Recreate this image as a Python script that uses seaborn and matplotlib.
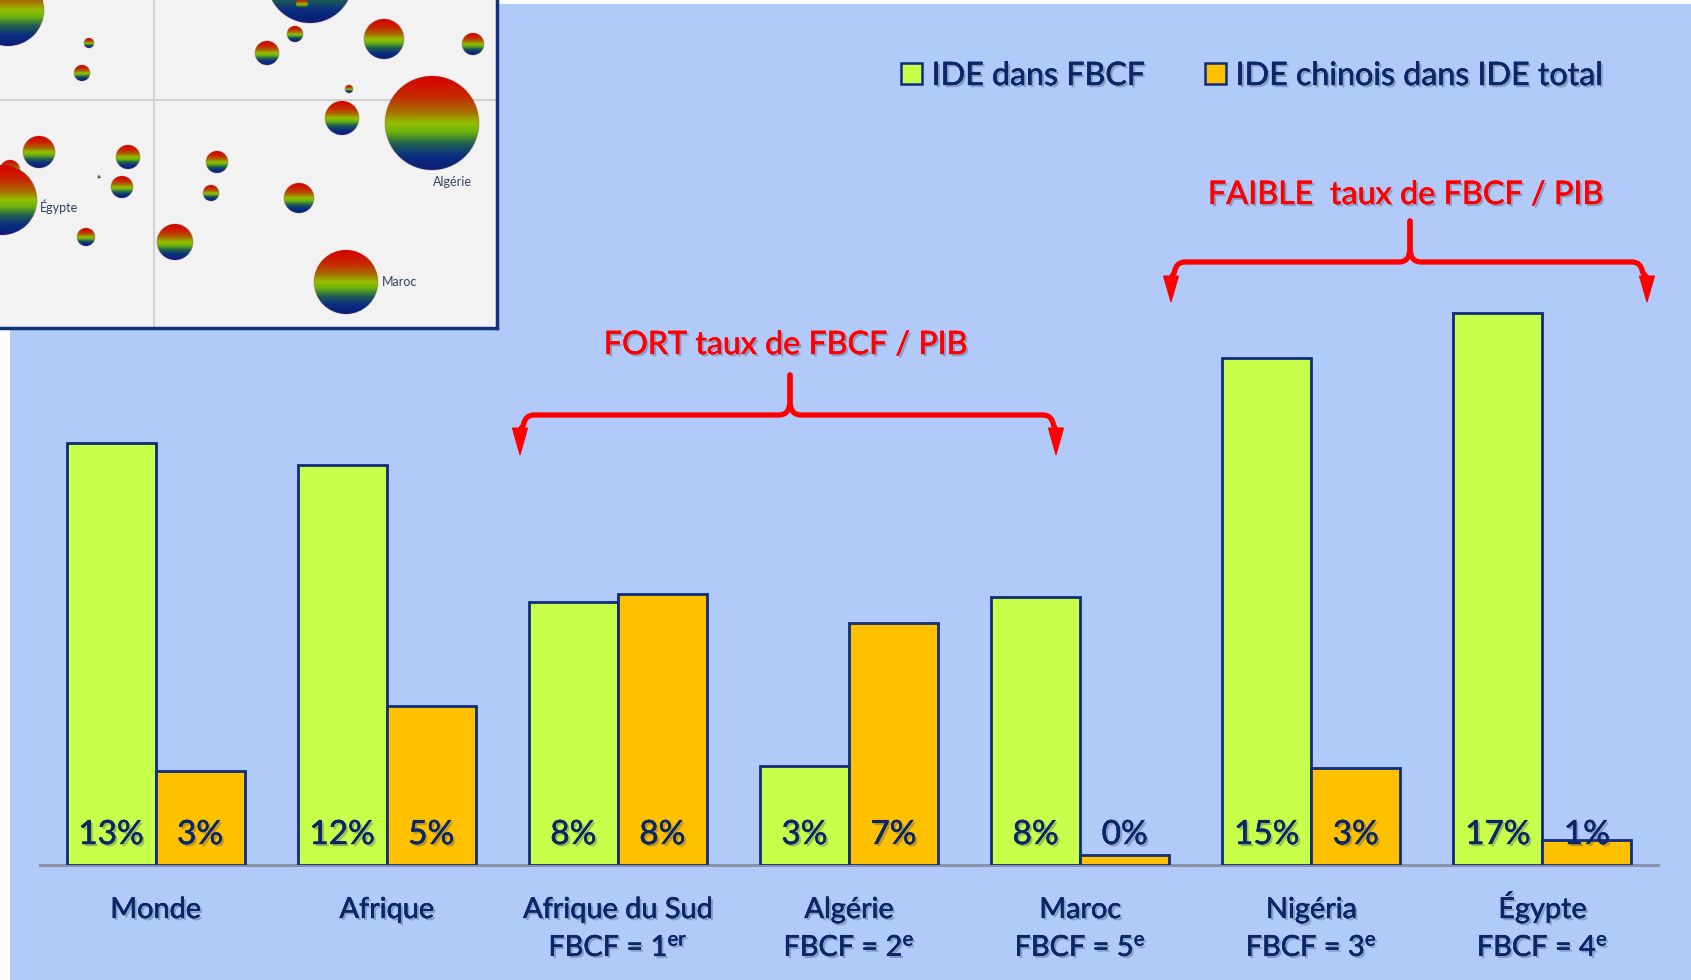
import numpy as np
import pandas as pd
import matplotlib
matplotlib.use("Agg")
import matplotlib.pyplot as plt
import seaborn as sns
from matplotlib.patches import Rectangle, Circle, PathPatch, Polygon, Patch
from matplotlib.path import Path
from matplotlib.colors import LinearSegmentedColormap
import matplotlib.patheffects as pe

# ---------------- data ----------------
pays = ["Monde", "Afrique", "Afrique du Sud", "Algérie", "Maroc", "Nigéria", "Égypte"]
rang_fbcf = ["", "", "FBCF = 1$^{\\mathrm{er}}$", "FBCF = 2$^{\\mathrm{e}}$",
             "FBCF = 5$^{\\mathrm{e}}$", "FBCF = 3$^{\\mathrm{e}}$", "FBCF = 4$^{\\mathrm{e}}$"]
series = ["IDE dans FBCF", "IDE chinois dans IDE total"]
ide_fbcf = [13.0, 12.3, 8.1, 3.05, 8.25, 15.6, 17.0]
ide_chinois = [2.9, 4.9, 8.35, 7.45, 0.3, 3.0, 0.77]
lab_fbcf = ["13%", "12%", "8%", "3%", "8%", "15%", "17%"]
lab_chinois = ["3%", "5%", "8%", "7%", "0%", "3%", "1%"]

annot_text = ["FORT taux de FBCF / PIB", "FAIBLE  taux de FBCF / PIB"]

# inset bubble picture (pixel positions inside inset)
bub_x = [8, 89, 82, 310, 302, 295, 267, 384, 473, 349, 342, 432, 39, 10, 2, 128, 99, 122, 86, 217, 211, 175, 299, 346]
bub_y = [10, 43, 73, -20, 4, 34, 53, 39, 44, 89, 118, 123, 152, 170, 200, 157, 177, 187, 237, 162, 193, 242, 198, 282]
bub_r = [36, 5, 8, 43, 6, 8, 12, 20, 11, 4, 17, 47, 16, 10, 35, 12, 1.5, 11, 9, 11, 8, 18, 15, 32]
bub_lab = ["Égypte", "Algérie", "Maroc"]
bub_lab_x = [40, 452, 382]
bub_lab_y = [207, 182, 282]
bub_lab_ha = ["left", "center", "left"]

# ---------------- style ----------------
sns.set_theme(style="white")
plt.rcParams["font.family"] = ["Lato", "DejaVu Sans"]
plt.rcParams["mathtext.fontset"] = "custom"
plt.rcParams["mathtext.rm"] = "Lato"
plt.rcParams["mathtext.it"] = "Lato:italic"
plt.rcParams["mathtext.bf"] = "Lato:bold"

BLUE = "#B1CAFA"
GREEN = "#C8FF4B"
ORANGE = "#FFC000"
NAVY = "#0E2D7A"
TXT = "#0A2868"
RED = "#FF0000"
W, H = 1691, 980

shadow = [pe.withSimplePatchShadow(offset=(1.6, -1.6), shadow_rgbFace=(0.25, 0.28, 0.4), alpha=0.35),
          pe.withStroke(linewidth=0.3, foreground=TXT)]
shadow_red = [pe.withSimplePatchShadow(offset=(1.6, -1.6), shadow_rgbFace=(0.25, 0.28, 0.4), alpha=0.35),
              pe.withStroke(linewidth=0.3, foreground=RED)]

fig = plt.figure(figsize=(W / 100, H / 100), dpi=100)
fig.patch.set_facecolor("white")

# background panel
bg = fig.add_axes([0, 0, 1, 1], zorder=0)
bg.set_xlim(0, W); bg.set_ylim(H, 0); bg.axis("off")
bg.add_patch(Rectangle((10, 4), W - 10, H - 4, color=BLUE, lw=0))

# main bar axes
x0, x1 = 40, 1658
ybase, ytop = 865, 215
ax = fig.add_axes([x0 / W, (H - ybase) / H, (x1 - x0) / W, (ybase - ytop) / H], zorder=2)
ax.set_facecolor("none")

df = pd.DataFrame({
    "pays": pays * 2,
    "valeur": ide_fbcf + ide_chinois,
    "serie": [series[0]] * len(pays) + [series[1]] * len(pays),
})
sns.barplot(data=df, x="pays", y="valeur", hue="serie", order=pays, hue_order=series,
            palette=[GREEN, ORANGE], width=0.77, edgecolor=NAVY, linewidth=2.0,
            errorbar=None, legend=False, ax=ax, saturation=1)
ax.set_xlim(-0.5, len(pays) - 0.5)
ax.set_ylim(0, 20)
ax.set_xlabel(""); ax.set_ylabel("")
ax.set_xticks([]); ax.set_yticks([])
for s in ["top", "left", "right"]:
    ax.spines[s].set_visible(False)
ax.spines["bottom"].set_color("#8A93A8")
ax.spines["bottom"].set_linewidth(2.2)
ax.spines["bottom"].set_zorder(0.5)

# value labels inside bars
for cont, labs in zip(ax.containers, [lab_fbcf, lab_chinois]):
    for bar, lab in zip(cont, labs):
        cx = bar.get_x() + bar.get_width() / 2
        ax.text(cx, 0.646, lab, ha="center", va="baseline", fontsize=24,
                color=TXT, path_effects=shadow, zorder=5)

# category labels
xt = ax.get_xaxis_transform()
for i, (p, r) in enumerate(zip(pays, rang_fbcf)):
    ax.text(i, -(918 - ybase) / (ybase - ytop), p, transform=xt, ha="center", va="baseline",
            fontsize=20.8, color=TXT, path_effects=shadow, clip_on=False)
    if r:
        ax.text(i, -(956 - ybase) / (ybase - ytop), r, transform=xt, ha="center", va="baseline",
                fontsize=20.8, color=TXT, path_effects=shadow, clip_on=False)

# legend
handles = [Patch(facecolor=c, edgecolor=NAVY, linewidth=1.8, label=s) for c, s in zip([GREEN, ORANGE], series)]
leg = fig.legend(handles=handles, loc="upper left", bbox_to_anchor=(901 / W, 1 - 61 / H),
                 ncol=2, frameon=False, fontsize=23.2, handlelength=0.65, handleheight=0.65,
                 handletextpad=0.3, columnspacing=1.85, borderpad=0, borderaxespad=0)
for t in leg.get_texts():
    t.set_color(TXT)
    t.set_path_effects(shadow)

# overlay for annotations (pixel coordinates)
ov = fig.add_axes([0, 0, 1, 1], zorder=3)
ov.set_xlim(0, W); ov.set_ylim(H, 0); ov.axis("off")


def brace(cx, ystem, yh, xl, xr, tl, tr, yah, ytip, hw=7.5):
    for side, xc, tip in ((-1, xl, tl), (1, xr, tr)):
        verts = [(cx, ystem), (cx, yh - 14), (cx, yh), (cx + side * 11, yh),
                 (xc - side * 9, yh), (xc, yh), (xc + side * 1.5, yh + 10),
                 (tip, yah + 2)]
        codes = [Path.MOVETO, Path.LINETO, Path.CURVE3, Path.CURVE3,
                 Path.LINETO, Path.CURVE3, Path.CURVE3, Path.LINETO]
        ov.add_patch(PathPatch(Path(verts, codes), fill=False, edgecolor=RED, lw=3.8,
                               capstyle="round", joinstyle="round"))
        ov.add_patch(Polygon([(tip - hw, yah), (tip + hw, yah), (tip, ytip)], closed=True,
                             facecolor=RED, edgecolor=RED, lw=0.8))


brace(790, 375, 415, 525, 1052, 520, 1056, 428, 455)
brace(1410, 221, 262, 1176, 1641, 1171, 1647, 276, 302)
ov.text(786, 354, annot_text[0], ha="center", va="baseline", fontsize=23.2, color=RED, path_effects=shadow_red)
ov.text(1406, 204, annot_text[1], ha="center", va="baseline", fontsize=23.3, color=RED, path_effects=shadow_red)

# inset bubble picture
iw, ih = 497, 328
ins = fig.add_axes([0, 1 - ih / H, iw / W, ih / H], zorder=5)
ins.set_facecolor("#F2F2F2")
ins.set_xlim(0, iw); ins.set_ylim(ih, 0)
ins.set_xticks([]); ins.set_yticks([])
for s in ["top", "left"]:
    ins.spines[s].set_visible(False)
for s in ["right", "bottom"]:
    ins.spines[s].set_color("#12307E")
    ins.spines[s].set_linewidth(2.5)
ins.axvline(154, color="#D2D2D2", lw=1.4, zorder=0)
ins.axhline(100, color="#D2D2D2", lw=1.4, zorder=0)

cmap = LinearSegmentedColormap.from_list("rainbow_bub", [
    (0.0, "#D80000"), (0.22, "#C52A00"), (0.38, "#A86E00"), (0.5, "#94C000"),
    (0.6, "#6AB010"), (0.72, "#1F6050"), (0.85, "#0B2E80"), (1.0, "#0A1E78")])
grad = np.linspace(0, 1, 256).reshape(-1, 1)
for k, (bx, by, br) in enumerate(zip(bub_x, bub_y, bub_r)):
    circ = Circle((bx, by), br, transform=ins.transData)
    im = ins.imshow(grad, cmap=cmap, aspect="auto", origin="upper",
                    extent=(bx - br, bx + br, by + br, by - br), zorder=2 + k * 0.01,
                    interpolation="bilinear")
    im.set_clip_path(circ)
    ins.add_patch(Circle((bx, by), br, fill=False, edgecolor=(0.5, 0.2, 0.2, 0.25), lw=0.8,
                         zorder=2 + k * 0.01 + 0.005))
ins.set_xlim(0, iw); ins.set_ylim(ih, 0)
for lab, lx, ly, ha in zip(bub_lab, bub_lab_x, bub_lab_y, bub_lab_ha):
    ins.text(lx, ly, lab, ha=ha, va="center", fontsize=9, color="#34415E", zorder=10)

fig.savefig("out.png", dpi=100, facecolor=fig.get_facecolor())
